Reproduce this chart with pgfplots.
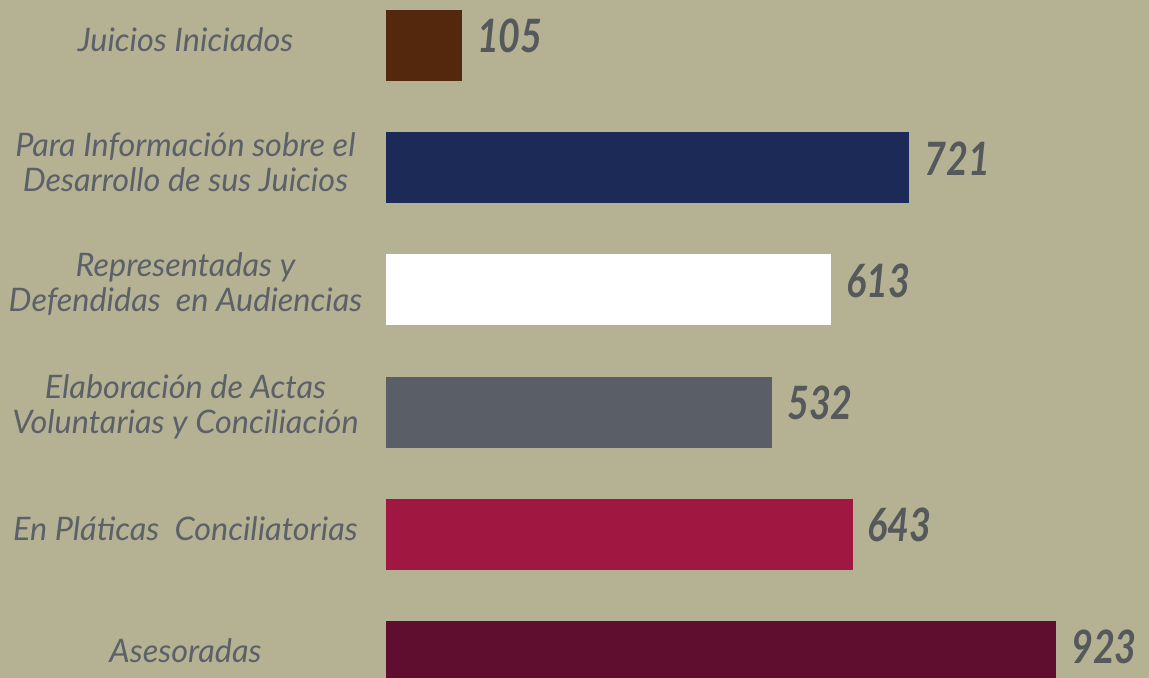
\documentclass[border=0pt]{standalone}
\usepackage{pgfplots}
\pgfplotsset{compat=1.18}
\usepackage{fontspec}
\setmainfont{Lato}
\newfontfamily\numfont[FakeStretch=0.82]{Lato}
\definecolor{bgcol}{RGB}{181,178,148}
\definecolor{txtcol}{RGB}{92,96,104}
\definecolor{numcol}{RGB}{85,89,92}
\definecolor{c1}{RGB}{83,40,12}
\definecolor{c2}{RGB}{27,42,86}
\definecolor{c3}{RGB}{255,255,255}
\definecolor{c4}{RGB}{90,94,102}
\definecolor{c5}{RGB}{160,24,66}
\definecolor{c6}{RGB}{95,14,47}
\begin{document}
\begin{tikzpicture}
\begin{axis}[
  scale only axis,
  width=574.5pt, height=339pt,
  xmin=-531.2, xmax=1051.0,
  ymin=-0.174, ymax=5.371,
  axis background/.style={fill=bgcol},
  axis line style={draw=none},
  tick style={draw=none},
  xtick=\empty,
  ytick={0,1,2,3,4,5},
  yticklabels={Asesoradas,
    En Pláticas\ \ Conciliatorias,
    {Elaboración de Actas\\Voluntarias y Conciliación},
    {Representadas y\\Defendidas\ \ en Audiencias},
    {Para Información sobre el\\Desarrollo de sus Juicios},
    Juicios Iniciados},
  yticklabel style={anchor=center, xshift=97pt, yshift=2.8pt, align=center,
    font=\fontsize{16.2}{17.6}\selectfont\itshape, text=txtcol},
  xbar, bar shift=0pt, bar width=0.58,
  /pgf/number format/assume math mode=true,
  nodes near coords,
  every node near coord/.append style={anchor=west, xshift=4pt, yshift=4.7pt,
    font=\fontsize{23}{25}\numfont\bfseries\itshape, text=numcol},
]
\addplot[fill=c6, draw=none] coordinates {(923,0)};
\addplot[fill=c5, draw=none] coordinates {(643,1)};
\addplot[fill=c4, draw=none] coordinates {(532,2)};
\addplot[fill=c3, draw=none] coordinates {(613,3)};
\addplot[fill=c2, draw=none] coordinates {(721,4)};
\addplot[fill=c1, draw=none] coordinates {(105,5)};
\end{axis}
\pgfresetboundingbox
\useasboundingbox (current axis.south west) rectangle (current axis.north east);
\end{tikzpicture}
\end{document}
